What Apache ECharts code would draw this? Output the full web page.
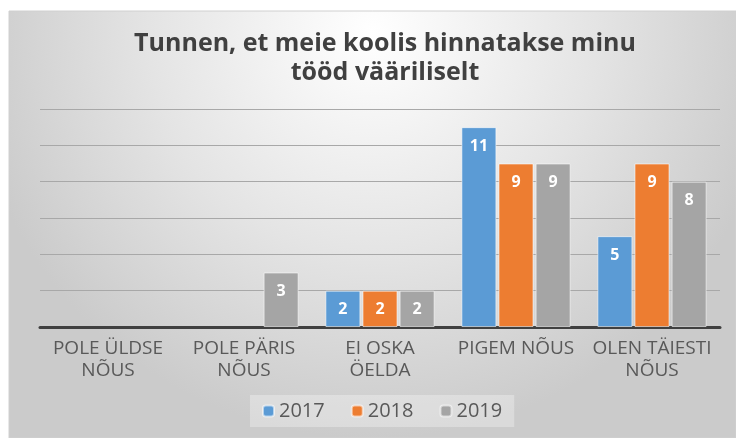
<!DOCTYPE html>
<html>
<head>
<meta charset="utf-8">
<script src="https://cdn.jsdelivr.net/npm/echarts@6/dist/echarts.min.js"></script>
<style>
  html, body { margin: 0; padding: 0; background: #fff; }
  #chart { width: 736px; height: 438px; }
</style>
</head>
<body>
<div id="chart"></div>
<script>
// data
const categories = ['POLE ÜLDSE\nNÕUS', 'POLE PÄRIS\nNÕUS', 'EI OSKA\nÖELDA', 'PIGEM NÕUS', 'OLEN TÄIESTI\nNÕUS'];
const years = ['2017', '2018', '2019'];
const v2017 = [0, 0, 2, 11, 5];
const v2018 = [0, 0, 2, 9, 9];
const v2019 = [0, 3, 2, 9, 8];
const colors = ['#5B9BD5', '#ED7D31', '#A5A5A5'];

const chart = echarts.init(document.getElementById('chart'));
const font = '"Open Sans", sans-serif';

function barSeries(name, data) {
  return {
    name: name,
    type: 'bar',
    // no border on empty bars, otherwise a line shows on the axis
    data: data.map(v => ({ value: v, itemStyle: v ? {} : { borderWidth: 0 } })),
    barWidth: 35,
    barGap: '6%',
    itemStyle: { borderColor: 'rgba(255,255,255,0.55)', borderWidth: 1 },
    label: {
      show: true,
      position: 'insideTop',
      distance: 11,
      color: '#fff',
      fontWeight: 'bold',
      fontSize: 16,
      fontFamily: font,
      formatter: p => (p.value ? p.value : '')
    }
  };
}

let option = {
  backgroundColor: '#fff',
  color: colors,
  animation: false,
  graphic: [{
    type: 'rect',
    z: -10,
    shape: { x: 9, y: 11, width: 727, height: 427 },
    style: {
      fill: new echarts.graphic.RadialGradient(0.5, 0.05, 0.95, [
        { offset: 0, color: '#ffffff' },
        { offset: 0.55, color: '#e4e4e4' },
        { offset: 1, color: '#cbcbcb' }
      ]),
      stroke: '#d0d0d0',
      lineWidth: 1
    }
  }],
  title: {
    text: 'Tunnen, et meie koolis hinnatakse minu\ntööd vääriliselt',
    left: 380,
    top: 24,
    textAlign: 'center',
    textStyle: {
      fontFamily: font,
      fontSize: 25,
      fontWeight: 'bold',
      color: '#404040',
      lineHeight: 29
    }
  },
  legend: {
    data: years,
    bottom: 11,
    left: 250,
    itemWidth: 11,
    itemHeight: 11,
    itemGap: 26,
    padding: [6, 12],
    backgroundColor: 'rgba(255,255,255,0.3)',
    textStyle: { fontFamily: font, fontSize: 20, color: '#595959' }
  },
  grid: { left: 40, right: 16, top: 109, bottom: 111, containLabel: false },
  xAxis: {
    type: 'category',
    data: categories,
    axisLine: { lineStyle: { color: '#404040', width: 3 } },
    axisTick: { show: false },
    axisLabel: {
      interval: 0,
      margin: 11,
      fontFamily: font,
      fontSize: 19,
      lineHeight: 22,
      color: '#595959'
    }
  },
  yAxis: {
    type: 'value',
    min: 0,
    max: 12,
    interval: 2,
    axisLabel: { show: false },
    axisLine: { show: false },
    axisTick: { show: false },
    splitLine: { lineStyle: { color: '#a8a8a8', width: 1 } }
  },
  series: [
    barSeries(years[0], v2017),
    barSeries(years[1], v2018),
    barSeries(years[2], v2019)
  ]
};

chart.setOption(option);
</script>
</body>
</html>
